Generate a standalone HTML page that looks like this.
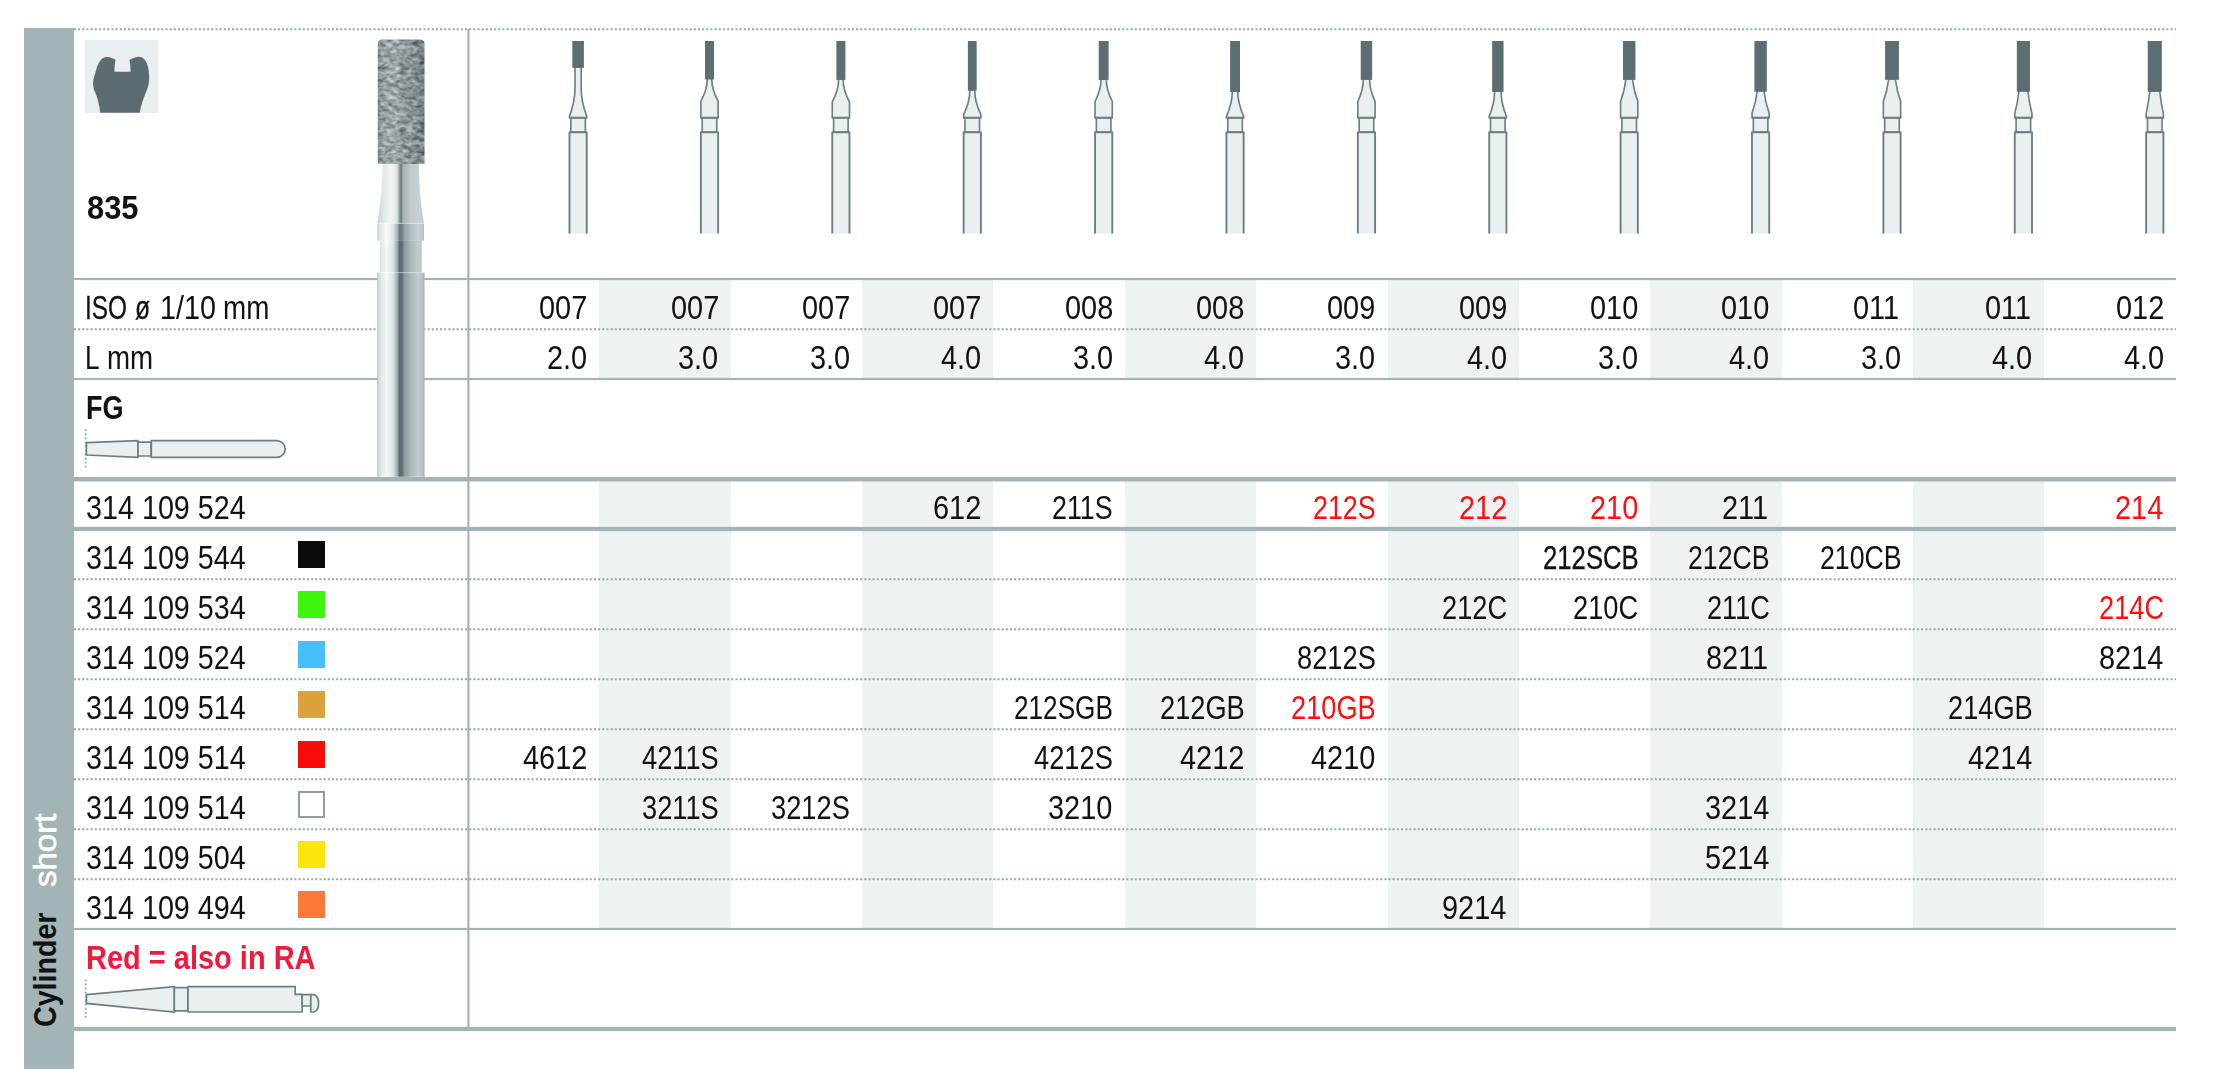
<!DOCTYPE html><html><head><meta charset="utf-8"><title>835 Cylinder short</title><style>
html,body{margin:0;padding:0;background:#fff}
body{width:2217px;height:1069px;position:relative;overflow:hidden;font-family:"Liberation Sans",sans-serif;color:#111}
.a{position:absolute}
.t{position:absolute;white-space:pre;font-size:32.5px;line-height:32.5px;height:32.5px;transform-origin:0 50%}
.b{font-weight:bold}
.red{color:#fb0f0f}
.sw{position:absolute;left:298px;width:27px;height:27px}
svg{position:absolute;left:0;top:0}

</style></head><body>
<div class="a" style="left:24px;top:28px;width:50px;height:1041px;background:#a3b4b7"></div>
<div class="a" style="left:599.3px;top:280px;width:131.4px;height:98px;background:#edf2f2"></div>
<div class="a" style="left:599.3px;top:481px;width:131.4px;height:447px;background:#edf2f2"></div>
<div class="a" style="left:862.0px;top:280px;width:131.4px;height:98px;background:#edf2f2"></div>
<div class="a" style="left:862.0px;top:481px;width:131.4px;height:447px;background:#edf2f2"></div>
<div class="a" style="left:1124.8px;top:280px;width:131.4px;height:98px;background:#edf2f2"></div>
<div class="a" style="left:1124.8px;top:481px;width:131.4px;height:447px;background:#edf2f2"></div>
<div class="a" style="left:1387.6px;top:280px;width:131.4px;height:98px;background:#edf2f2"></div>
<div class="a" style="left:1387.6px;top:481px;width:131.4px;height:447px;background:#edf2f2"></div>
<div class="a" style="left:1650.3px;top:280px;width:131.4px;height:98px;background:#edf2f2"></div>
<div class="a" style="left:1650.3px;top:481px;width:131.4px;height:447px;background:#edf2f2"></div>
<div class="a" style="left:1913.1px;top:280px;width:131.4px;height:98px;background:#edf2f2"></div>
<div class="a" style="left:1913.1px;top:481px;width:131.4px;height:447px;background:#edf2f2"></div>
<div class="a" style="left:84.5px;top:40px;width:73.5px;height:73px;background:#e9eff0"></div>
<svg width="2217" height="1069" viewBox="0 0 2217 1069">
<line x1="74" y1="29.2" x2="2176" y2="29.2" stroke="#92a6a9" stroke-width="1.9" stroke-dasharray="2 2.16"/>
<rect x="74" y="277.90" width="2102" height="2.2" fill="#a3b4b7"/>
<line x1="74" y1="329.2" x2="2176" y2="329.2" stroke="#92a6a9" stroke-width="1.9" stroke-dasharray="2 2.16"/>
<rect x="74" y="377.90" width="2102" height="2.2" fill="#a3b4b7"/>
<rect x="74" y="476.95" width="2102" height="4.5" fill="#a3b4b7"/>
<rect x="74" y="526.90" width="2102" height="4.2" fill="#a3b4b7"/>
<line x1="74" y1="579.2" x2="2176" y2="579.2" stroke="#92a6a9" stroke-width="1.9" stroke-dasharray="2 2.16"/>
<line x1="74" y1="629.2" x2="2176" y2="629.2" stroke="#92a6a9" stroke-width="1.9" stroke-dasharray="2 2.16"/>
<line x1="74" y1="679.2" x2="2176" y2="679.2" stroke="#92a6a9" stroke-width="1.9" stroke-dasharray="2 2.16"/>
<line x1="74" y1="729.2" x2="2176" y2="729.2" stroke="#92a6a9" stroke-width="1.9" stroke-dasharray="2 2.16"/>
<line x1="74" y1="779.2" x2="2176" y2="779.2" stroke="#92a6a9" stroke-width="1.9" stroke-dasharray="2 2.16"/>
<line x1="74" y1="829.2" x2="2176" y2="829.2" stroke="#92a6a9" stroke-width="1.9" stroke-dasharray="2 2.16"/>
<line x1="74" y1="879.2" x2="2176" y2="879.2" stroke="#92a6a9" stroke-width="1.9" stroke-dasharray="2 2.16"/>
<rect x="74" y="927.90" width="2102" height="2.2" fill="#a3b4b7"/>
<rect x="74" y="1026.90" width="2102" height="4.2" fill="#a3b4b7"/>
<rect x="467.29999999999995" y="29" width="2.2" height="1000" fill="#a3b4b7"/>
</svg>
<svg width="2217" height="1069" viewBox="0 0 2217 1069">
<defs>
<linearGradient id="gs" gradientUnits="userSpaceOnUse" x1="377" y1="0" x2="425" y2="0">
<stop offset="0" stop-color="#b4c0c2"/><stop offset=".06" stop-color="#dde3e4"/><stop offset=".2" stop-color="#f6f8f8"/>
<stop offset=".33" stop-color="#dfe5e6"/><stop offset=".42" stop-color="#a3afb2"/><stop offset=".47" stop-color="#5b6c71"/>
<stop offset=".52" stop-color="#5f7075"/><stop offset=".58" stop-color="#8f9da0"/><stop offset=".7" stop-color="#a9b5b8"/>
<stop offset=".86" stop-color="#c2cbcd"/><stop offset=".95" stop-color="#b4bfc1"/><stop offset="1" stop-color="#9eabae"/>
</linearGradient>
<linearGradient id="gn" gradientUnits="userSpaceOnUse" x1="377" y1="0" x2="425" y2="0">
<stop offset="0" stop-color="#c3cdcf"/><stop offset=".12" stop-color="#dfe5e6"/><stop offset=".3" stop-color="#f3f6f6"/>
<stop offset=".42" stop-color="#dce2e3"/><stop offset=".47" stop-color="#8d9b9f"/><stop offset=".5" stop-color="#66777b"/>
<stop offset=".54" stop-color="#a5b1b4"/><stop offset=".7" stop-color="#c0c9cb"/>
<stop offset=".9" stop-color="#c9d1d3"/><stop offset="1" stop-color="#b5c0c2"/>
</linearGradient>
<linearGradient id="gh" gradientUnits="userSpaceOnUse" x1="377" y1="0" x2="425" y2="0">
<stop offset="0" stop-color="#000" stop-opacity=".18"/><stop offset=".15" stop-color="#fff" stop-opacity=".08"/>
<stop offset=".4" stop-color="#fff" stop-opacity=".12"/><stop offset=".75" stop-color="#000" stop-opacity=".06"/>
<stop offset="1" stop-color="#000" stop-opacity=".2"/>
</linearGradient>
<filter id="grit" x="0" y="0" width="100%" height="100%" color-interpolation-filters="sRGB">
<feTurbulence type="fractalNoise" baseFrequency=".15 .24" numOctaves="2" seed="7" result="n"/>
<feColorMatrix in="n" type="matrix" values=".72 0 0 0 .20  .72 0 0 0 .245  .72 0 0 0 .258  0 0 0 0 1" result="g"/>
<feComposite in="g" in2="SourceGraphic" operator="in"/>
</filter>
</defs>
<path fill="#5b6d72" d="M100.2 112.8 L139.8 112.8 C140.6 106 143.5 98 146.5 90.9 C148.6 85.5 149.4 82 149.2 76.5 C149 69 147.6 63.5 144.8 59.8 C143 57.4 140.5 56.6 138.1 56.8 C135 57.1 132 58.6 129.3 60.1 C130.3 63 130.5 67 130.5 71.8 L114.5 71.8 C114.5 67 114.8 63 115.6 60.1 C113 58.4 110.5 57.2 107.8 57.1 C105 57 102.6 58 101 59.8 C98.3 63 96.8 67 96 70.7 C94.2 76 93.2 79.5 93.1 83.5 C93.1 87.5 94 90 95.2 92.6 C97.5 98 99.5 105 100.2 112.8 Z"/>
<g>
<path fill="url(#gn)" d="M382.7 162 L418.9 162 C419 190 421.6 210 423.9 223.3 L377.4 223.3 C379.7 210 382.6 190 382.7 162 Z"/>
<rect x="377.4" y="223.3" width="46.6" height="17.2" fill="url(#gs)"/>
<rect x="377.4" y="223.3" width="46.6" height="17.2" fill="#fff" opacity=".1"/>
<rect x="380" y="240.3" width="41.6" height="32.3" fill="url(#gs)"/>
<rect x="377.2" y="272.4" width="47.3" height="204.4" fill="url(#gs)"/>
<rect x="377.4" y="222.8" width="46.6" height="1.2" fill="#fff" opacity=".35"/>
<rect x="377.2" y="272" width="47.3" height="1.2" fill="#fff" opacity=".35"/>
<path filter="url(#grit)" fill="#8e9899" d="M377.8 44 Q377.8 39.5 382.3 39.5 L420 39.5 Q424.5 39.5 424.5 44 L424.5 163.7 L377.8 163.7 Z"/>
<path fill="url(#gh)" d="M377.8 44 Q377.8 39.5 382.3 39.5 L420 39.5 Q424.5 39.5 424.5 44 L424.5 163.7 L377.8 163.7 Z"/>
</g>
<g stroke="#6e7f84" stroke-width="1.65" fill="#eaeff0" stroke-linejoin="round">
<path d="M575.02 66.9 L575.02 88.4 Q575.02 101.0 569.48 116.4 L569.48 117.9 L586.73 117.9 L586.73 116.4 Q581.18 101.0 581.18 88.4 L581.18 66.9 Z"/>
<path d="M569.48 117.9 L586.73 117.9" stroke-width="2.4"/>
<path d="M570.83 118.9 L570.83 132 L585.38 132 L585.38 118.9"/>
<path d="M569.48 233.4 L569.48 132.3 L586.73 132.3 L586.73 233.4" stroke-width="1.9"/>
</g>
<rect x="572.30" y="41" width="11.6" height="26.9" fill="#5d6e73"/>
<g stroke="#6e7f84" stroke-width="1.65" fill="#eaeff0" stroke-linejoin="round">
<path d="M707.22 78.4 L707.22 79.6 Q707.22 89.4 700.87 101.3 L700.87 117.9 L718.12 117.9 L718.12 101.3 Q711.76 89.4 711.76 79.6 L711.76 78.4 Z"/>
<path d="M700.87 117.9 L718.12 117.9" stroke-width="2.4"/>
<path d="M702.22 118.9 L702.22 132 L716.76 132 L716.76 118.9"/>
<path d="M700.87 233.4 L700.87 132.3 L718.12 132.3 L718.12 233.4" stroke-width="1.9"/>
</g>
<rect x="704.99" y="41" width="9.0" height="38.4" fill="#5d6e73"/>
<g stroke="#6e7f84" stroke-width="1.65" fill="#eaeff0" stroke-linejoin="round">
<path d="M838.61 78.9 L838.61 80 Q838.61 89.9 832.25 102 L832.25 117.9 L849.50 117.9 L849.50 102 Q843.15 89.9 843.15 80 L843.15 78.9 Z"/>
<path d="M832.25 117.9 L849.50 117.9" stroke-width="2.4"/>
<path d="M833.61 118.9 L833.61 132 L848.15 132 L848.15 118.9"/>
<path d="M832.25 233.4 L832.25 132.3 L849.50 132.3 L849.50 233.4" stroke-width="1.9"/>
</g>
<rect x="836.38" y="41" width="9.0" height="38.9" fill="#5d6e73"/>
<g stroke="#6e7f84" stroke-width="1.65" fill="#eaeff0" stroke-linejoin="round">
<path d="M969.79 89.7 L969.79 91 Q969.79 101.7 963.64 114.7 L963.64 117.9 L980.89 117.9 L980.89 114.7 Q974.75 101.7 974.75 91 L974.75 89.7 Z"/>
<path d="M963.64 117.9 L980.89 117.9" stroke-width="2.4"/>
<path d="M965.00 118.9 L965.00 132 L979.54 132 L979.54 118.9"/>
<path d="M963.64 233.4 L963.64 132.3 L980.89 132.3 L980.89 233.4" stroke-width="1.9"/>
</g>
<rect x="967.87" y="41" width="8.8" height="49.7" fill="#5d6e73"/>
<g stroke="#6e7f84" stroke-width="1.65" fill="#eaeff0" stroke-linejoin="round">
<path d="M1100.98 78.9 L1100.98 80 Q1100.98 89.7 1095.03 101.5 L1095.03 117.9 L1112.28 117.9 L1112.28 101.5 Q1106.33 89.7 1106.33 80 L1106.33 78.9 Z"/>
<path d="M1095.03 117.9 L1112.28 117.9" stroke-width="2.4"/>
<path d="M1096.38 118.9 L1096.38 132 L1110.93 132 L1110.93 118.9"/>
<path d="M1095.03 233.4 L1095.03 132.3 L1112.28 132.3 L1112.28 233.4" stroke-width="1.9"/>
</g>
<rect x="1098.71" y="41" width="9.9" height="38.9" fill="#5d6e73"/>
<g stroke="#6e7f84" stroke-width="1.65" fill="#eaeff0" stroke-linejoin="round">
<path d="M1232.27 91 L1232.27 92 Q1232.27 103.0 1226.42 116.4 L1226.42 117.9 L1243.67 117.9 L1243.67 116.4 Q1237.83 103.0 1237.83 92 L1237.83 91 Z"/>
<path d="M1226.42 117.9 L1243.67 117.9" stroke-width="2.4"/>
<path d="M1227.77 118.9 L1227.77 132 L1242.33 132 L1242.33 118.9"/>
<path d="M1226.42 233.4 L1226.42 132.3 L1243.67 132.3 L1243.67 233.4" stroke-width="1.9"/>
</g>
<rect x="1230.10" y="41" width="9.9" height="51.0" fill="#5d6e73"/>
<g stroke="#6e7f84" stroke-width="1.65" fill="#eaeff0" stroke-linejoin="round">
<path d="M1363.27 78.9 L1363.27 80 Q1363.27 89.7 1357.82 101.5 L1357.82 117.9 L1375.07 117.9 L1375.07 101.5 Q1369.62 89.7 1369.62 80 L1369.62 78.9 Z"/>
<path d="M1357.82 117.9 L1375.07 117.9" stroke-width="2.4"/>
<path d="M1359.16 118.9 L1359.16 132 L1373.72 132 L1373.72 118.9"/>
<path d="M1357.82 233.4 L1357.82 132.3 L1375.07 132.3 L1375.07 233.4" stroke-width="1.9"/>
</g>
<rect x="1360.74" y="41" width="11.4" height="38.9" fill="#5d6e73"/>
<g stroke="#6e7f84" stroke-width="1.65" fill="#eaeff0" stroke-linejoin="round">
<path d="M1494.55 91 L1494.55 92 Q1494.55 103.0 1489.20 116.4 L1489.20 117.9 L1506.45 117.9 L1506.45 116.4 Q1501.11 103.0 1501.11 92 L1501.11 91 Z"/>
<path d="M1489.20 117.9 L1506.45 117.9" stroke-width="2.4"/>
<path d="M1490.55 118.9 L1490.55 132 L1505.11 132 L1505.11 118.9"/>
<path d="M1489.20 233.4 L1489.20 132.3 L1506.45 132.3 L1506.45 233.4" stroke-width="1.9"/>
</g>
<rect x="1492.13" y="41" width="11.4" height="51.0" fill="#5d6e73"/>
<g stroke="#6e7f84" stroke-width="1.65" fill="#eaeff0" stroke-linejoin="round">
<path d="M1625.74 78.9 L1625.74 80 Q1624.71 90.1 1620.59 101.5 L1620.59 117.9 L1637.84 117.9 L1637.84 101.5 Q1633.72 90.1 1632.69 80 L1632.69 78.9 Z"/>
<path d="M1620.59 117.9 L1637.84 117.9" stroke-width="2.4"/>
<path d="M1621.94 118.9 L1621.94 132 L1636.49 132 L1636.49 118.9"/>
<path d="M1620.59 233.4 L1620.59 132.3 L1637.84 132.3 L1637.84 233.4" stroke-width="1.9"/>
</g>
<rect x="1623.02" y="41" width="12.4" height="38.9" fill="#5d6e73"/>
<g stroke="#6e7f84" stroke-width="1.65" fill="#eaeff0" stroke-linejoin="round">
<path d="M1757.03 90.7 L1757.03 92 Q1756.02 102.1 1751.98 113.4 L1751.98 117.9 L1769.23 117.9 L1769.23 113.4 Q1765.19 102.1 1764.18 92 L1764.18 90.7 Z"/>
<path d="M1751.98 117.9 L1769.23 117.9" stroke-width="2.4"/>
<path d="M1753.33 118.9 L1753.33 132 L1767.88 132 L1767.88 118.9"/>
<path d="M1751.98 233.4 L1751.98 132.3 L1769.23 132.3 L1769.23 233.4" stroke-width="1.9"/>
</g>
<rect x="1754.41" y="41" width="12.4" height="50.7" fill="#5d6e73"/>
<g stroke="#6e7f84" stroke-width="1.65" fill="#eaeff0" stroke-linejoin="round">
<path d="M1888.53 78.8 L1888.53 80 Q1887.24 90.2 1883.38 101.4 L1883.38 117.9 L1900.62 117.9 L1900.62 101.4 Q1896.76 90.2 1895.47 80 L1895.47 78.8 Z"/>
<path d="M1883.38 117.9 L1900.62 117.9" stroke-width="2.4"/>
<path d="M1884.72 118.9 L1884.72 132 L1899.28 132 L1899.28 118.9"/>
<path d="M1883.38 233.4 L1883.38 132.3 L1900.62 132.3 L1900.62 233.4" stroke-width="1.9"/>
</g>
<rect x="1885.10" y="41" width="13.8" height="38.8" fill="#5d6e73"/>
<g stroke="#6e7f84" stroke-width="1.65" fill="#eaeff0" stroke-linejoin="round">
<path d="M2018.81 90.7 L2018.81 92 Q2017.60 102.4 2014.76 113.6 L2014.76 117.9 L2032.01 117.9 L2032.01 113.6 Q2029.18 102.4 2027.96 92 L2027.96 90.7 Z"/>
<path d="M2014.76 117.9 L2032.01 117.9" stroke-width="2.4"/>
<path d="M2016.11 118.9 L2016.11 132 L2030.66 132 L2030.66 118.9"/>
<path d="M2014.76 233.4 L2014.76 132.3 L2032.01 132.3 L2032.01 233.4" stroke-width="1.9"/>
</g>
<rect x="2016.84" y="41" width="13.1" height="50.7" fill="#5d6e73"/>
<g stroke="#6e7f84" stroke-width="1.65" fill="#eaeff0" stroke-linejoin="round">
<path d="M2149.70 90.8 L2149.70 92 Q2148.64 102.4 2146.15 113.6 L2146.15 117.9 L2163.40 117.9 L2163.40 113.6 Q2160.92 102.4 2159.85 92 L2159.85 90.8 Z"/>
<path d="M2146.15 117.9 L2163.40 117.9" stroke-width="2.4"/>
<path d="M2147.50 118.9 L2147.50 132 L2162.05 132 L2162.05 118.9"/>
<path d="M2146.15 233.4 L2146.15 132.3 L2163.40 132.3 L2163.40 233.4" stroke-width="1.9"/>
</g>
<rect x="2147.73" y="41" width="14.1" height="50.8" fill="#5d6e73"/>
<line x1="85.7" y1="429.3" x2="85.7" y2="469" stroke="#8fa5a8" stroke-width="1.8" stroke-dasharray="1.8 2.25"/>
<g stroke="#6e7f84" stroke-width="1.7" fill="#eaeff0" stroke-linejoin="round">
<path d="M86.4 442.6 L138 440.6 L138 457.4 L86.4 455 Z"/>
<path d="M138 442.2 L151 442.2 L151 456 L138 456 Z"/>
<path d="M151.3 440.6 L276.8 440.6 A8.4 8.4 0 0 1 276.8 457.4 L151.3 457.4 Z"/>
</g>
<line x1="85.7" y1="979.5" x2="85.7" y2="1018.3" stroke="#8fa5a8" stroke-width="1.8" stroke-dasharray="1.8 2.25"/>
<g stroke="#6e7f84" stroke-width="1.7" fill="#eaeff0" stroke-linejoin="miter">
<path d="M86.4 994.6 L174.3 986.6 L174.3 1012 L86.4 1003.4 Z"/>
<path d="M174.3 987.6 L188 987.6 L188 1010.8 L174.3 1010.8 Z"/>
<path d="M188 986.6 L295.2 986.6 L295.2 994.3 L302.2 994.3 L302.2 1012 L188 1012 Z"/>
<path d="M302.2 994.6 L310.8 994.6 L310.8 1006 L302.2 1006 Z"/>
<path d="M310.8 994.6 L314 994.6 Q318.6 996 318.6 1003.3 Q318.6 1010.6 314 1012 L310.8 1012 Z"/>
</g>
</svg>
<div class="t  b" style="left:86.55px;top:191.8px;transform:scaleX(0.950);">835</div>
<div class="t " style="left:85.25px;top:292.0px;transform:scaleX(0.751);-webkit-text-stroke:.3px currentColor;">ISO</div>
<div class="t " style="left:135.47px;top:292.0px;transform:scaleX(0.761);-webkit-text-stroke:.3px currentColor;">ø</div>
<div class="t " style="left:159.69px;top:292.0px;transform:scaleX(0.884);">1/10</div>
<div class="t " style="left:223.12px;top:292.0px;transform:scaleX(0.855);">mm</div>
<div class="t " style="left:85.33px;top:342.1px;transform:scaleX(0.804);">L</div>
<div class="t " style="left:106.62px;top:342.1px;transform:scaleX(0.853);">mm</div>
<div class="t  b" style="left:85.67px;top:391.5px;transform:scaleX(0.832);">FG</div>
<div class="t " style="left:539.18px;top:292.0px;transform:scaleX(0.890);">007</div>
<div class="t " style="left:547.01px;top:342.1px;transform:scaleX(0.890);">2.0</div>
<div class="t " style="left:670.56px;top:292.0px;transform:scaleX(0.890);">007</div>
<div class="t " style="left:678.39px;top:342.1px;transform:scaleX(0.890);">3.0</div>
<div class="t " style="left:801.94px;top:292.0px;transform:scaleX(0.890);">007</div>
<div class="t " style="left:809.77px;top:342.1px;transform:scaleX(0.890);">3.0</div>
<div class="t " style="left:933.32px;top:292.0px;transform:scaleX(0.890);">007</div>
<div class="t " style="left:941.15px;top:342.1px;transform:scaleX(0.890);">4.0</div>
<div class="t " style="left:1064.52px;top:292.0px;transform:scaleX(0.890);">008</div>
<div class="t " style="left:1072.53px;top:342.1px;transform:scaleX(0.890);">3.0</div>
<div class="t " style="left:1195.90px;top:292.0px;transform:scaleX(0.890);">008</div>
<div class="t " style="left:1203.91px;top:342.1px;transform:scaleX(0.890);">4.0</div>
<div class="t " style="left:1327.46px;top:292.0px;transform:scaleX(0.890);">009</div>
<div class="t " style="left:1335.29px;top:342.1px;transform:scaleX(0.890);">3.0</div>
<div class="t " style="left:1458.84px;top:292.0px;transform:scaleX(0.890);">009</div>
<div class="t " style="left:1466.67px;top:342.1px;transform:scaleX(0.890);">4.0</div>
<div class="t " style="left:1589.95px;top:292.0px;transform:scaleX(0.890);">010</div>
<div class="t " style="left:1598.05px;top:342.1px;transform:scaleX(0.890);">3.0</div>
<div class="t " style="left:1721.33px;top:292.0px;transform:scaleX(0.890);">010</div>
<div class="t " style="left:1729.43px;top:342.1px;transform:scaleX(0.890);">4.0</div>
<div class="t " style="left:1853.40px;top:292.0px;transform:scaleX(0.890);">011</div>
<div class="t " style="left:1860.81px;top:342.1px;transform:scaleX(0.890);">3.0</div>
<div class="t " style="left:1984.78px;top:292.0px;transform:scaleX(0.890);">011</div>
<div class="t " style="left:1992.19px;top:342.1px;transform:scaleX(0.890);">4.0</div>
<div class="t " style="left:2115.74px;top:292.0px;transform:scaleX(0.890);">012</div>
<div class="t " style="left:2123.57px;top:342.1px;transform:scaleX(0.890);">4.0</div>
<div class="t " style="left:85.74px;top:491.8px;transform:scaleX(0.884);">314 109 524</div>
<div class="t " style="left:933.32px;top:491.8px;transform:scaleX(0.890);">612</div>
<div class="t " style="left:1052.26px;top:491.8px;transform:scaleX(0.824);">211S</div>
<div class="t red" style="left:1312.87px;top:491.8px;transform:scaleX(0.826);">212S</div>
<div class="t red" style="left:1458.84px;top:491.8px;transform:scaleX(0.890);">212</div>
<div class="t red" style="left:1589.95px;top:491.8px;transform:scaleX(0.890);">210</div>
<div class="t " style="left:1722.02px;top:491.8px;transform:scaleX(0.890);">211</div>
<div class="t red" style="left:2115.20px;top:491.8px;transform:scaleX(0.890);">214</div>
<div class="t " style="left:85.74px;top:541.8px;transform:scaleX(0.884);">314 109 544</div>
<div class="sw" style="top:541px;background:#0a0c0b"></div>
<div class="t " style="left:1542.65px;top:541.8px;transform:scaleX(0.791);-webkit-text-stroke:.3px currentColor;">212SCB</div>
<div class="t " style="left:1688.29px;top:541.8px;transform:scaleX(0.821);">212CB</div>
<div class="t " style="left:1819.67px;top:541.8px;transform:scaleX(0.821);">210CB</div>
<div class="t " style="left:85.74px;top:591.8px;transform:scaleX(0.884);">314 109 534</div>
<div class="sw" style="top:591px;background:#3ff50f"></div>
<div class="t " style="left:1441.80px;top:591.8px;transform:scaleX(0.837);">212C</div>
<div class="t " style="left:1573.18px;top:591.8px;transform:scaleX(0.837);">210C</div>
<div class="t " style="left:1706.71px;top:591.8px;transform:scaleX(0.835);">211C</div>
<div class="t red" style="left:2098.70px;top:591.8px;transform:scaleX(0.837);">214C</div>
<div class="t " style="left:85.74px;top:641.8px;transform:scaleX(0.884);">314 109 524</div>
<div class="sw" style="top:641px;background:#45bff9"></div>
<div class="t " style="left:1296.75px;top:641.8px;transform:scaleX(0.839);">8212S</div>
<div class="t " style="left:1705.91px;top:641.8px;transform:scaleX(0.890);">8211</div>
<div class="t " style="left:2099.18px;top:641.8px;transform:scaleX(0.890);">8214</div>
<div class="t " style="left:85.74px;top:691.8px;transform:scaleX(0.884);">314 109 514</div>
<div class="sw" style="top:691px;background:#dba23a"></div>
<div class="t " style="left:1014.05px;top:691.8px;transform:scaleX(0.805);">212SGB</div>
<div class="t " style="left:1159.69px;top:691.8px;transform:scaleX(0.837);">212GB</div>
<div class="t red" style="left:1291.07px;top:691.8px;transform:scaleX(0.837);">210GB</div>
<div class="t " style="left:1947.97px;top:691.8px;transform:scaleX(0.837);">214GB</div>
<div class="t " style="left:85.74px;top:741.8px;transform:scaleX(0.884);">314 109 514</div>
<div class="sw" style="top:741px;background:#fb0a0a"></div>
<div class="t " style="left:523.16px;top:741.8px;transform:scaleX(0.890);">4612</div>
<div class="t " style="left:641.96px;top:741.8px;transform:scaleX(0.838);">4211S</div>
<div class="t " style="left:1033.96px;top:741.8px;transform:scaleX(0.839);">4212S</div>
<div class="t " style="left:1180.06px;top:741.8px;transform:scaleX(0.890);">4212</div>
<div class="t " style="left:1311.17px;top:741.8px;transform:scaleX(0.890);">4210</div>
<div class="t " style="left:1967.80px;top:741.8px;transform:scaleX(0.890);">4214</div>
<div class="t " style="left:85.74px;top:791.8px;transform:scaleX(0.884);">314 109 514</div>
<div class="sw" style="top:791px;box-sizing:border-box;border:2px solid #8e9ea2;background:#fff"></div>
<div class="t " style="left:641.99px;top:791.8px;transform:scaleX(0.838);">3211S</div>
<div class="t " style="left:771.22px;top:791.8px;transform:scaleX(0.839);">3212S</div>
<div class="t " style="left:1048.41px;top:791.8px;transform:scaleX(0.890);">3210</div>
<div class="t " style="left:1705.04px;top:791.8px;transform:scaleX(0.890);">3214</div>
<div class="t " style="left:85.74px;top:841.8px;transform:scaleX(0.884);">314 109 504</div>
<div class="sw" style="top:841px;background:#fbe50a"></div>
<div class="t " style="left:1705.04px;top:841.8px;transform:scaleX(0.890);">5214</div>
<div class="t " style="left:85.74px;top:891.8px;transform:scaleX(0.884);">314 109 494</div>
<div class="sw" style="top:891px;background:#fb7a37"></div>
<div class="t " style="left:1442.28px;top:891.8px;transform:scaleX(0.890);">9214</div>
<div class="t  b" style="left:85.84px;top:941.7px;transform:scaleX(0.892);color:#f21a3c">Red = also in RA</div>
<div class="t b" style="left:29.54px;top:1027.04px;font-size:31.5px;line-height:31.5px;height:31.5px;transform-origin:0 0;transform:rotate(-90deg) scaleX(0.908);">Cylinder</div>
<div class="t" style="left:29.54px;top:886.61px;font-size:31.5px;line-height:31.5px;height:31.5px;transform-origin:0 0;transform:rotate(-90deg) scaleX(1.048);color:#fff;-webkit-text-stroke:0.7px #fff">short</div>
</body></html>
